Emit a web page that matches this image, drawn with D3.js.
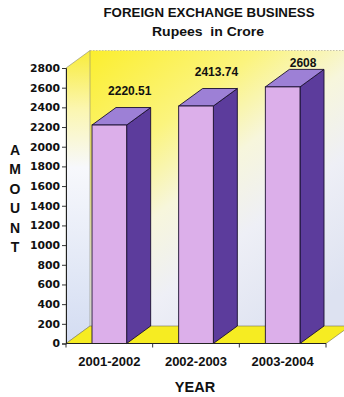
<!DOCTYPE html>
<html>
<head>
<meta charset="utf-8">
<script src="https://cdn.jsdelivr.net/npm/d3@7"></script>
<style>
  html, body { margin: 0; padding: 0; background: #fff; }
  svg { display: block; }
  text { font-family: "Liberation Sans", Arial, sans-serif; font-weight: bold; fill: #111; }
</style>
</head>
<body>
<svg id="chart" width="344" height="397"></svg>
<script>
// Foreign exchange business, rupees in crore
const years = ["2001-2002", "2002-2003", "2003-2004"];
const amounts = [2220.51, 2413.74, 2608];
const valueLabels = ["2220.51", "2413.74", "2608"];
const yTicks = [0, 200, 400, 600, 800, 1000, 1200, 1400, 1600, 1800, 2000, 2200, 2400, 2600, 2800];
const titleLines = ["FOREIGN EXCHANGE BUSINESS", "Rupees  in Crore"];
const yAxisTitle = ["A", "M", "O", "U", "N", "T"];
const xAxisTitle = "YEAR";

const svg = d3.select("#chart");

// plot frame and 3D depth offset
const plotLeft = 66, plotRight = 326, plotBottom = 343.5, plotTop = 68;
const dx = 24, dy = -17.5;

const y = d3.scaleLinear().domain([0, 2800]).range([plotBottom, plotTop]);
const x = d3.scaleBand().domain(years).range([plotLeft, plotRight])
  .paddingInner(0.6).paddingOuter(0.3);
const bw = x.bandwidth();

const defs = svg.append("defs");
const back = defs.append("linearGradient").attr("id", "backWall")
  .attr("x1", 0).attr("y1", 0).attr("x2", 0.75).attr("y2", 1);
[[0, "#fbee2e"], [0.3, "#fbf47e"], [0.5, "#f7f6dc"], [0.7, "#eeeff6"], [1, "#dde2f1"]]
  .forEach(([o, c]) => back.append("stop").attr("offset", o).attr("stop-color", c));
const side = defs.append("linearGradient").attr("id", "sideWall")
  .attr("x1", 0).attr("y1", 0).attr("x2", 0).attr("y2", 1);
[[0, "#f8ec3a"], [0.2, "#fbf6b0"], [0.4, "#f7f8fc"], [0.75, "#e2e8f6"], [1, "#d3dcf2"]]
  .forEach(([o, c]) => side.append("stop").attr("offset", o).attr("stop-color", c));

const line = d3.line();

// back wall
svg.append("rect")
  .attr("x", plotLeft + dx).attr("y", plotTop + dy)
  .attr("width", plotRight - plotLeft + 10).attr("height", plotBottom - plotTop)
  .attr("fill", "url(#backWall)");
svg.append("line")
  .attr("x1", plotLeft + dx).attr("x2", 344).attr("y1", plotTop + dy).attr("y2", plotTop + dy)
  .attr("stroke", "#b8b49a").attr("stroke-width", 0.8).attr("stroke-dasharray", "1.5,1.5");

// left side wall
svg.append("path")
  .attr("d", line([[plotLeft, y(0)], [plotLeft, y(2800)], [plotLeft + dx, y(2800) + dy], [plotLeft + dx, y(0) + dy]]) + "Z")
  .attr("fill", "url(#sideWall)")
  .attr("stroke", "#8a8a7a").attr("stroke-width", 0.6);

// floor
svg.append("path")
  .attr("d", line([[plotLeft, y(0)], [plotRight, y(0)], [plotRight + dx, y(0) + dy], [plotLeft + dx, y(0) + dy]]) + "Z")
  .attr("fill", "#f6ec22")
  .attr("stroke", "#77735a").attr("stroke-width", 0.6);

// bars
const bars = svg.append("g").selectAll("g").data(years).join("g");
bars.each(function (d, i) {
  const g = d3.select(this);
  const x0 = x(d), yv = y(amounts[i]), y0 = y(0);
  g.append("path") // side face
    .attr("d", line([[x0 + bw, yv], [x0 + bw + dx, yv + dy], [x0 + bw + dx, y0 + dy], [x0 + bw, y0]]) + "Z")
    .attr("fill", "#5c3c9c").attr("stroke", "#1a1030").attr("stroke-width", 0.9);
  g.append("path") // top face
    .attr("d", line([[x0, yv], [x0 + bw, yv], [x0 + bw + dx, yv + dy], [x0 + dx, yv + dy]]) + "Z")
    .attr("fill", "#9d80d6").attr("stroke", "#1a1030").attr("stroke-width", 0.9);
  g.append("rect") // front face
    .attr("x", x0).attr("y", yv).attr("width", bw).attr("height", y0 - yv)
    .attr("fill", "#dcafea").attr("stroke", "#1a1030").attr("stroke-width", 0.9);
  g.append("text")
    .attr("x", x0 + bw / 2 + dx * 0.85)
    .attr("y", Math.max(yv + dy - 12.5, plotTop + dy + 16.5))
    .attr("text-anchor", "middle")
    .attr("font-size", 12)
    .text(valueLabels[i]);
});

// y axis
const yAxis = svg.append("g").attr("transform", `translate(${plotLeft},0)`)
  .call(d3.axisLeft(y).tickValues(yTicks).tickSize(4).tickPadding(2).tickFormat(d3.format("d")));
yAxis.select(".domain").attr("stroke", "#222").attr("stroke-width", 1);
yAxis.selectAll(".tick line").attr("stroke", "#333");
yAxis.selectAll("text")
  .style("font-family", "'DejaVu Sans', sans-serif")
  .style("font-weight", "bold")
  .attr("font-size", 10.8).attr("fill", "#111");

// x axis: ticks on category boundaries
const xg = svg.append("g").attr("transform", `translate(0,${plotBottom})`);
xg.append("line").attr("x1", plotLeft).attr("x2", plotRight).attr("y1", 0).attr("y2", 0)
  .attr("stroke", "#222").attr("stroke-width", 1);
d3.range(years.length + 1).forEach(i => {
  const bx = x.range()[0] + i * x.step();
  xg.append("line").attr("x1", bx).attr("x2", bx).attr("y1", 0).attr("y2", 4)
    .attr("stroke", "#333");
});
years.forEach(d => {
  xg.append("text")
    .attr("x", x(d) + bw / 2).attr("y", 22)
    .attr("text-anchor", "middle").attr("font-size", 13)
    .text(d);
});

// titles
svg.append("text").attr("x", 209).attr("y", 17).attr("text-anchor", "middle")
  .attr("font-size", 12).attr("textLength", 211).attr("lengthAdjust", "spacingAndGlyphs")
  .text(titleLines[0]);
svg.append("text").attr("x", 208).attr("y", 36).attr("text-anchor", "middle")
  .attr("font-size", 12.5).attr("textLength", 112).attr("lengthAdjust", "spacingAndGlyphs")
  .style("white-space", "pre")
  .text(titleLines[1]);

svg.append("g").selectAll("text").data(yAxisTitle).join("text")
  .attr("x", 15).attr("y", (d, i) => 155 + i * 19.4)
  .attr("text-anchor", "middle").attr("font-size", 14)
  .text(d => d);

svg.append("text").attr("x", 195).attr("y", 392).attr("text-anchor", "middle")
  .attr("font-size", 14.5).text(xAxisTitle);
</script>
</body>
</html>
